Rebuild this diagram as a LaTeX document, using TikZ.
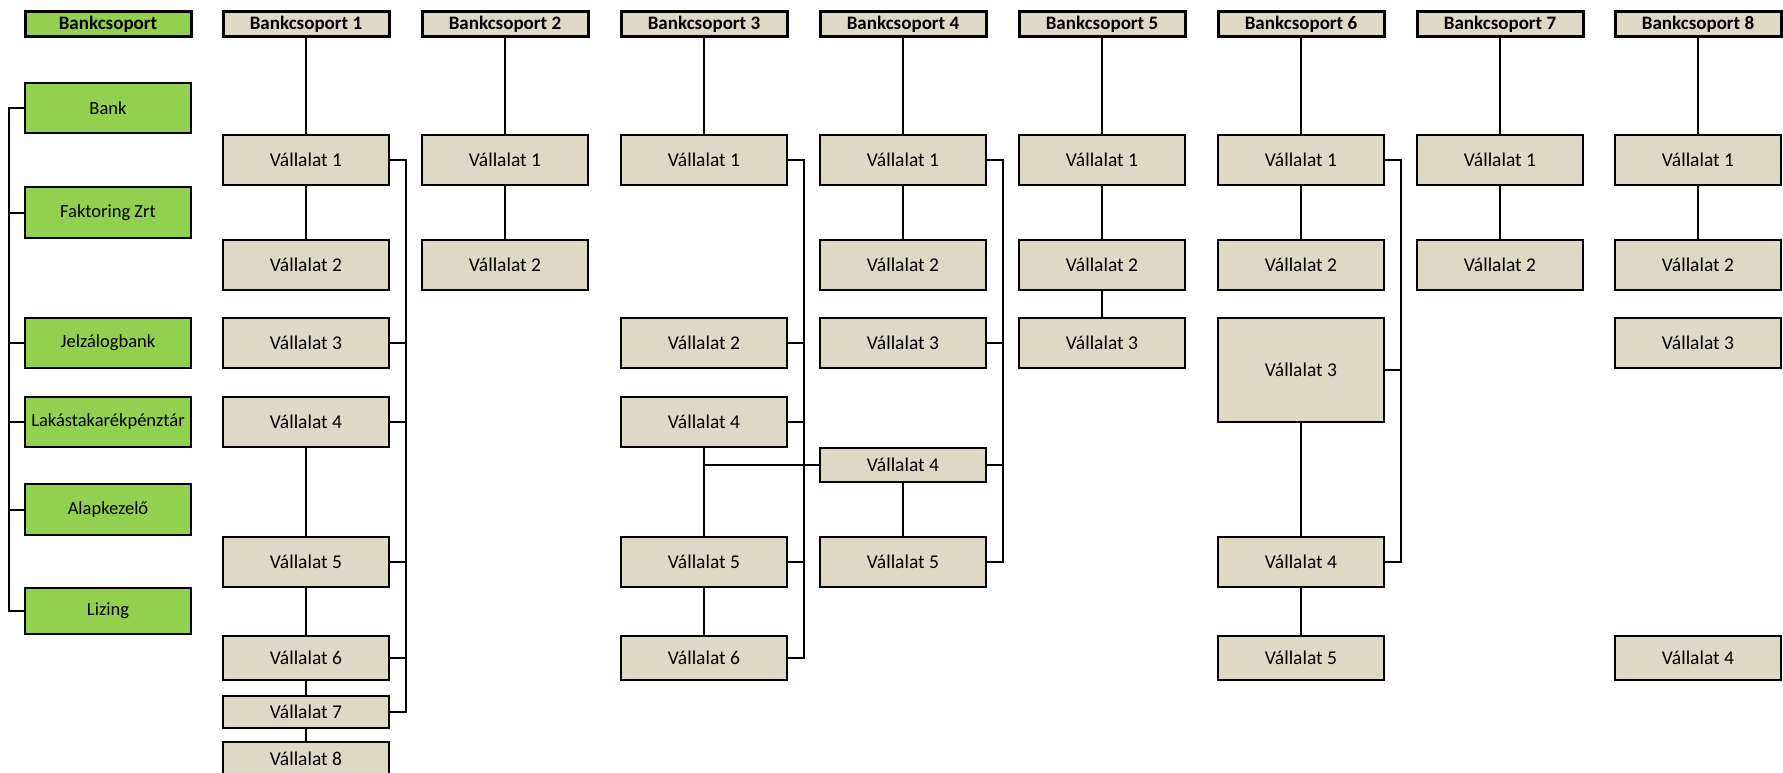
\documentclass[tikz,border=0pt]{standalone}
\usepackage{fontspec}
\setmainfont{Carlito}
\definecolor{tan}{HTML}{DDD9C4}
\definecolor{grn}{HTML}{92D050}
\tikzset{
  base/.style={draw=black, inner sep=0pt, outer sep=0pt, minimum width=166pt, align=center,
    font=\fontsize{19.5}{22}\selectfont},
  vbox/.style={base, fill=tan, line width=2pt, minimum height=50pt},
  gbox/.style={base, fill=grn, line width=2pt, minimum height=50pt, font=\fontsize{18.5}{22}\selectfont},
  hbox/.style={base, fill=tan, line width=3pt, minimum height=25pt, font=\fontsize{19}{22}\selectfont\bfseries},
  ghbox/.style={hbox, fill=grn},
  conn/.style={line width=2pt, draw=black}
}
\begin{document}
\begin{tikzpicture}[x=1pt,y=-1pt]
\useasboundingbox (0,0) rectangle (1783,773);
\clip (0,0) rectangle (1783,773);
% column 0 (green)
\node[ghbox] (h0) at (108,24) {Bankcsoport};
\node[gbox] (g1) at (108,108) {Bank};
\node[gbox, minimum height=51pt] (g2) at (108,212.5) {Faktoring Zrt};
\node[gbox] (g3) at (108,343) {Jelzálogbank};
\node[gbox] (g4) at (108,422) {Lakástakarékpénztár};
\node[gbox, minimum height=51pt] (g5) at (108,509.5) {Alapkezelő};
\node[gbox, minimum height=46pt] (g6) at (108,611) {Lizing};
\coordinate (gb) at (9,0);
\draw[conn] (g1.west) -- (g1.west -| gb) -- (g6.west -| gb) -- (g6.west);
\foreach \g in {g2,g3,g4,g5} \draw[conn] (\g.west) -- (\g.west -| gb);
% column 1
\node[hbox] (h1) at (306,24) {Bankcsoport 1};
\node[vbox] (c1v1) at (306,160) {Vállalat 1};
\node[vbox] (c1v2) at (306,265) {Vállalat 2};
\node[vbox] (c1v3) at (306,343) {Vállalat 3};
\node[vbox] (c1v4) at (306,422) {Vállalat 4};
\node[vbox] (c1v5) at (306,562) {Vállalat 5};
\node[vbox, minimum height=44pt] (c1v6) at (306,658) {Vállalat 6};
\node[vbox, minimum height=32pt] (c1v7) at (306,712) {Vállalat 7};
\node[vbox, minimum height=34pt] (c1v8) at (306,759) {Vállalat 8};
\draw[conn] (h1.south) -- (c1v1.north);
\draw[conn] (c1v1.south) -- (c1v2.north);
\draw[conn] (c1v4.south) -- (c1v5.north);
\draw[conn] (c1v5.south) -- (c1v6.north);
\draw[conn] (c1v6.south) -- (c1v7.north);
\draw[conn] (c1v7.south) -- (c1v8.north);
\coordinate (b1) at (406,0);
\draw[conn] (c1v1.east) -- (c1v1.east -| b1) -- (c1v7.east -| b1) -- (c1v7.east);
\foreach \n in {c1v3,c1v4,c1v5,c1v6} \draw[conn] (\n.east) -- (\n.east -| b1);
% column 2
\node[hbox] (h2) at (505,24) {Bankcsoport 2};
\node[vbox] (c2v1) at (505,160) {Vállalat 1};
\node[vbox] (c2v2) at (505,265) {Vállalat 2};
\draw[conn] (h2.south) -- (c2v1.north);
\draw[conn] (c2v1.south) -- (c2v2.north);
% column 3
\node[hbox] (h3) at (704,24) {Bankcsoport 3};
\node[vbox] (c3v1) at (704,160) {Vállalat 1};
\node[vbox] (c3v2) at (704,343) {Vállalat 2};
\node[vbox] (c3v4) at (704,422) {Vállalat 4};
\node[vbox] (c3v5) at (704,562) {Vállalat 5};
\node[vbox, minimum height=44pt] (c3v6) at (704,658) {Vállalat 6};
\draw[conn] (h3.south) -- (c3v1.north);
\draw[conn] (c3v4.south) -- (c3v5.north);
\draw[conn] (c3v5.south) -- (c3v6.north);
\coordinate (b3) at (804,0);
\draw[conn] (c3v1.east) -- (c3v1.east -| b3) -- (c3v6.east -| b3) -- (c3v6.east);
\foreach \n in {c3v2,c3v4,c3v5} \draw[conn] (\n.east) -- (\n.east -| b3);
% column 4
\node[hbox] (h4) at (903,24) {Bankcsoport 4};
\node[vbox] (c4v1) at (903,160) {Vállalat 1};
\node[vbox] (c4v2) at (903,265) {Vállalat 2};
\node[vbox] (c4v3) at (903,343) {Vállalat 3};
\node[vbox, minimum height=34pt] (c4v4) at (903,465) {Vállalat 4};
\node[vbox] (c4v5) at (903,562) {Vállalat 5};
\draw[conn] (h4.south) -- (c4v1.north);
\draw[conn] (c4v1.south) -- (c4v2.north);
\draw[conn] (c4v4.south) -- (c4v5.north);
\draw[conn] (c3v4.south |- c4v4.west) -- (c4v4.west);
\coordinate (b4) at (1003,0);
\draw[conn] (c4v1.east) -- (c4v1.east -| b4) -- (c4v5.east -| b4) -- (c4v5.east);
\foreach \n in {c4v3,c4v4} \draw[conn] (\n.east) -- (\n.east -| b4);
% column 5
\node[hbox] (h5) at (1102,24) {Bankcsoport 5};
\node[vbox] (c5v1) at (1102,160) {Vállalat 1};
\node[vbox] (c5v2) at (1102,265) {Vállalat 2};
\node[vbox] (c5v3) at (1102,343) {Vállalat 3};
\draw[conn] (h5.south) -- (c5v1.north);
\draw[conn] (c5v1.south) -- (c5v2.north);
\draw[conn] (c5v2.south) -- (c5v3.north);
% column 6
\node[hbox] (h6) at (1301,24) {Bankcsoport 6};
\node[vbox] (c6v1) at (1301,160) {Vállalat 1};
\node[vbox] (c6v2) at (1301,265) {Vállalat 2};
\node[vbox, minimum height=104pt] (c6v3) at (1301,370) {Vállalat 3};
\node[vbox] (c6v4) at (1301,562) {Vállalat 4};
\node[vbox, minimum height=44pt] (c6v5) at (1301,658) {Vállalat 5};
\draw[conn] (h6.south) -- (c6v1.north);
\draw[conn] (c6v1.south) -- (c6v2.north);
\draw[conn] (c6v3.south) -- (c6v4.north);
\draw[conn] (c6v4.south) -- (c6v5.north);
\coordinate (b6) at (1401,0);
\draw[conn] (c6v1.east) -- (c6v1.east -| b6) -- (c6v4.east -| b6) -- (c6v4.east);
\draw[conn] (c6v3.east) -- (c6v3.east -| b6);
% column 7
\node[hbox] (h7) at (1500,24) {Bankcsoport 7};
\node[vbox] (c7v1) at (1500,160) {Vállalat 1};
\node[vbox] (c7v2) at (1500,265) {Vállalat 2};
\draw[conn] (h7.south) -- (c7v1.north);
\draw[conn] (c7v1.south) -- (c7v2.north);
% column 8
\node[hbox] (h8) at (1698,24) {Bankcsoport 8};
\node[vbox] (c8v1) at (1698,160) {Vállalat 1};
\node[vbox] (c8v2) at (1698,265) {Vállalat 2};
\node[vbox] (c8v3) at (1698,343) {Vállalat 3};
\node[vbox, minimum height=44pt] (c8v4) at (1698,658) {Vállalat 4};
\draw[conn] (h8.south) -- (c8v1.north);
\draw[conn] (c8v1.south) -- (c8v2.north);
\end{tikzpicture}
\end{document}
